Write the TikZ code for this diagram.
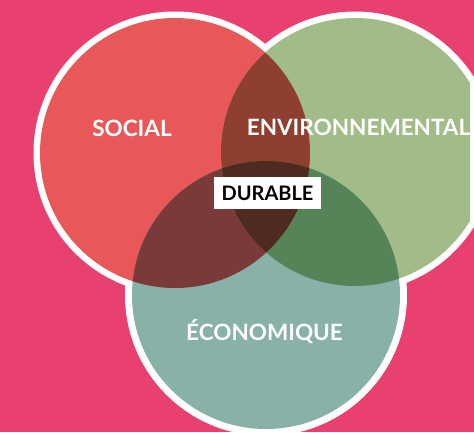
\documentclass[tikz,border=0pt]{standalone}
\usepackage{fontspec}
\setmainfont{Lato}
\definecolor{bgpink}{HTML}{E8406F}
\definecolor{socred}{HTML}{E85858}
\definecolor{envgreen}{HTML}{A1BC88}
\definecolor{ecoteal}{HTML}{88B1A8}
\definecolor{se}{HTML}{8F3F30}
\definecolor{sc}{HTML}{7A3A3A}
\definecolor{ec}{HTML}{558459}
\definecolor{sec}{HTML}{4E2A20}
\tikzset{
  lbl/.style={text=white, font=\fontsize{22.5}{22.5}\selectfont\bfseries, inner sep=0pt, anchor=base},
  durbox/.style={fill=white, inner sep=0pt, minimum width=107pt, minimum height=32pt, font=\fontsize{20}{20}\selectfont\bfseries, text=black}
}
\begin{document}
\begin{tikzpicture}[x=1pt,y=-1pt]
\useasboundingbox (0,0) rectangle (474,432);
\fill[bgpink] (0,0) rectangle (474,432);
\coordinate (S) at (175,153);
\coordinate (E) at (355,152);
\coordinate (C) at (266,295);
% white rings
\fill[white] (S) circle[radius=141.5pt];
\fill[white] (E) circle[radius=140.5pt];
\fill[white] (C) circle[radius=141pt];
% base fills
\fill[socred] (S) circle[radius=135pt];
\begin{scope}
  \clip (0,0) rectangle (470,432);
  \fill[envgreen] (E) circle[radius=134pt];
\end{scope}
\fill[ecoteal] (C) circle[radius=134pt];
% overlaps
\begin{scope}
  \clip (S) circle[radius=135pt];
  \fill[se] (E) circle[radius=134pt];
\end{scope}
\begin{scope}
  \clip (S) circle[radius=135pt];
  \fill[sc] (C) circle[radius=134pt];
\end{scope}
\begin{scope}
  \clip (0,0) rectangle (470,432);
  \clip (E) circle[radius=134pt];
  \fill[ec] (C) circle[radius=134pt];
\end{scope}
\begin{scope}
  \clip (S) circle[radius=135pt];
  \clip (E) circle[radius=134pt];
  \fill[sec] (C) circle[radius=134pt];
\end{scope}
% labels
\node[lbl] (social) at (132,136) {SOCIAL};
\node[lbl] (env) at (358.5,135) {ENVIRONNEMENTAL};
\node[lbl] (eco) at (264.5,340) {ÉCONOMIQUE};
\node[durbox] (durable) at (267.5,193) {DURABLE};
\end{tikzpicture}
\end{document}
